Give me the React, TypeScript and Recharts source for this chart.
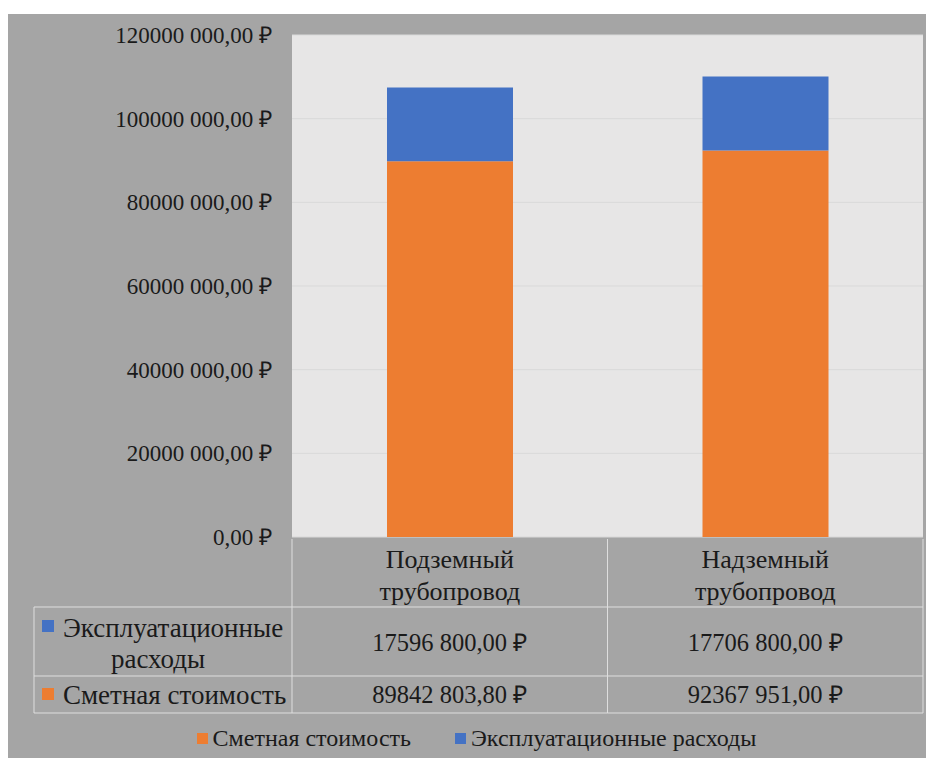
import { BarChart, Bar, XAxis, YAxis, CartesianGrid, Legend } from "recharts";

const categories = ["Подземный трубопровод", "Надземный трубопровод"];
const estimateCost = [89842803.8, 92367951.0];
const operatingCost = [17596800.0, 17706800.0];
const yTicks = [0, 20000000, 40000000, 60000000, 80000000, 100000000, 120000000];

const seriesEstimate = "Сметная стоимость";
const seriesOperating = "Эксплуатационные расходы";

const ORANGE = "#ed7d31";
const BLUE = "#4472c4";
const BG = "#a5a5a5";
const PLOT_BG = "#e7e6e6";
const LINE = "#dedede";
const FONT = "'Liberation Serif', 'Times New Roman', serif";
const TEXT = "#1a1a1a";

const W = 918;
const H = 744;
const PLOT_LEFT = 284;
const PLOT_RIGHT = 915;

const data = categories.map((name, i) => ({
  name,
  estimate: estimateCost[i],
  operating: operatingCost[i],
}));

// excel style "# ##0,00 ₽" - only the last group is split off
function rub(v: number) {
  const cents = Math.round(v * 100);
  const int = Math.floor(cents / 100);
  const frac = String(cents % 100).padStart(2, "0");
  const head = Math.floor(int / 1000);
  const tail = int % 1000;
  const s = head > 0 ? `${head} ${String(tail).padStart(3, "0")}` : `${tail}`;
  return `${s},${frac} ₽`;
}

function TableTick(props: any) {
  const { x, y, index } = props;
  const band = (PLOT_RIGHT - PLOT_LEFT) / categories.length;
  const x0 = x - band / 2;
  const x1 = x + band / 2;
  const lines = categories[index].split(" ");
  const txt = { fontFamily: FONT, fill: TEXT, textAnchor: "middle" as const, dominantBaseline: "central" as const };
  return (
    <g>
      <line x1={x0} x2={x0} y1={y} y2={y + 174} stroke={LINE} />
      <line x1={x1} x2={x1} y1={y} y2={y + 174} stroke={LINE} />
      <line x1={x0} x2={x1} y1={y + 68} y2={y + 68} stroke={LINE} />
      <line x1={x0} x2={x1} y1={y + 137} y2={y + 137} stroke={LINE} />
      <line x1={x0} x2={x1} y1={y + 174} y2={y + 174} stroke={LINE} />
      <text x={x} y={y + 20} fontSize={26} {...txt}>{lines[0]}</text>
      <text x={x} y={y + 52} fontSize={26} {...txt}>{lines[1]}</text>
      <text x={x} y={y + 103} fontSize={24.5} {...txt}>{rub(operatingCost[index])}</text>
      <text x={x} y={y + 155} fontSize={24.5} {...txt}>{rub(estimateCost[index])}</text>
      {index === 0 && (
        <g>
          <line x1={26} x2={26} y1={y + 68} y2={y + 174} stroke={LINE} />
          <line x1={26} x2={x0} y1={y + 68} y2={y + 68} stroke={LINE} />
          <line x1={26} x2={x0} y1={y + 137} y2={y + 137} stroke={LINE} />
          <line x1={26} x2={x0} y1={y + 174} y2={y + 174} stroke={LINE} />
          <rect x={34} y={y + 81} width={12} height={12} fill={BLUE} />
          <text x={55} y={y + 89} fontSize={27} {...txt} textAnchor="start">Эксплуатационные</text>
          <text x={150} y={y + 120} fontSize={27} {...txt}>расходы</text>
          <rect x={34} y={y + 149} width={12} height={12} fill={ORANGE} />
          <text x={55} y={y + 156} fontSize={27} {...txt} textAnchor="start">{seriesEstimate}</text>
        </g>
      )}
    </g>
  );
}

function LegendContent() {
  const items = [
    { label: seriesEstimate, color: ORANGE },
    { label: seriesOperating, color: BLUE },
  ];
  return (
    <div
      style={{
        display: "flex",
        justifyContent: "center",
        alignItems: "center",
        height: 40,
        paddingLeft: 22,
        fontFamily: FONT,
        fontSize: 24,
        color: TEXT,
        gap: 44,
      }}
    >
      {items.map((it) => (
        <span key={it.label} style={{ display: "flex", alignItems: "center" }}>
          <span style={{ width: 11, height: 11, background: it.color, marginRight: 5 }} />
          {it.label}
        </span>
      ))}
    </div>
  );
}

export default function App() {
  return (
    <div style={{ position: "absolute", left: 8, top: 14, width: W, height: H, background: BG }}>
      <BarChart
        width={W}
        height={H}
        data={data}
        margin={{ top: 21, right: W - PLOT_RIGHT, left: 0, bottom: 0 }}
        barSize={126}
      >
        <CartesianGrid vertical={false} stroke="#d9d9d9" fill={PLOT_BG} />
        <YAxis
          width={PLOT_LEFT}
          domain={[0, 120000000]}
          ticks={yTicks}
          tickFormatter={rub}
          axisLine={false}
          tickLine={false}
          tickSize={0}
          tickMargin={20}
          tick={{ fontFamily: FONT, fontSize: 23, fill: TEXT }}
        />
        <XAxis
          dataKey="name"
          height={181}
          axisLine={false}
          tickLine={false}
          tickSize={0}
          tick={<TableTick />}
          interval={0}
        />
        <Legend verticalAlign="bottom" height={40} content={<LegendContent />} />
        <Bar dataKey="estimate" name={seriesEstimate} stackId="a" fill={ORANGE} isAnimationActive={false} />
        <Bar dataKey="operating" name={seriesOperating} stackId="a" fill={BLUE} isAnimationActive={false} />
      </BarChart>
    </div>
  );
}
